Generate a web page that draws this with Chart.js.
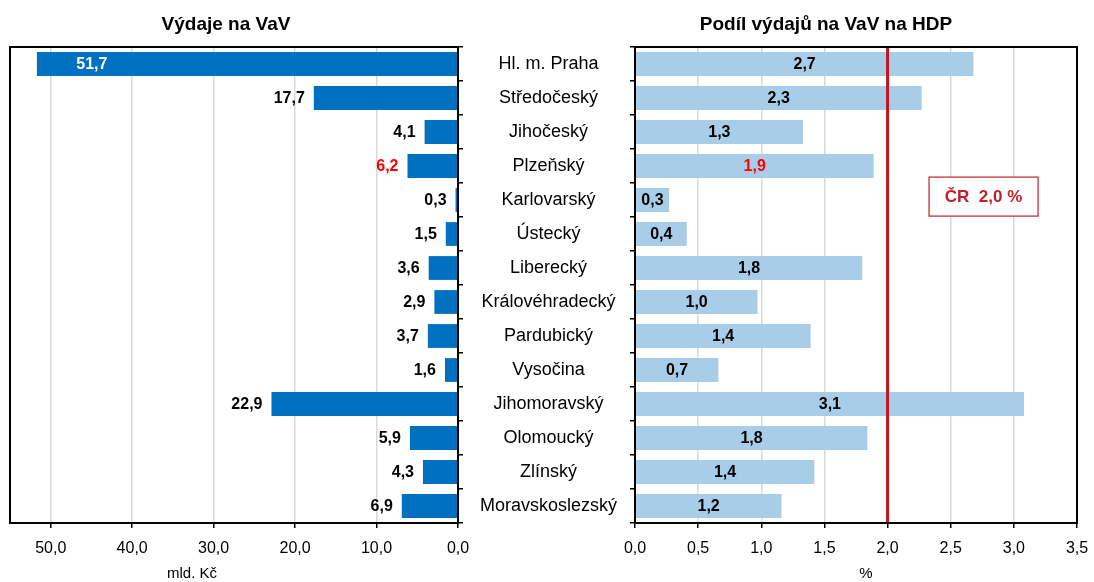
<!DOCTYPE html>
<html lang="cs">
<head>
<meta charset="utf-8">
<title>Výdaje na VaV v krajích</title>
<script src="https://cdn.jsdelivr.net/npm/chart.js@4.4.0/dist/chart.umd.min.js"></script>
<style>
  html, body { margin: 0; padding: 0; background: #fff; }
  #wrap { position: relative; width: 1094px; height: 582px; overflow: hidden; }
  #leftChart { position: absolute; left: 0; top: 0; }
  #rightChart { position: absolute; left: 470px; top: 0; }
</style>
</head>
<body>
<div id="wrap">
  <canvas id="leftChart" width="470" height="582"></canvas>
  <canvas id="rightChart" width="624" height="582"></canvas>
</div>
<script>
// Data
const regions = ['Hl. m. Praha', 'Středočeský', 'Jihočeský', 'Plzeňský', 'Karlovarský', 'Ústecký',
  'Liberecký', 'Královéhradecký', 'Pardubický', 'Vysočina', 'Jihomoravský', 'Olomoucký',
  'Zlínský', 'Moravskoslezský'];
const spending = [51.7, 17.7, 4.1, 6.2, 0.3, 1.5, 3.6, 2.9, 3.7, 1.6, 22.9, 5.9, 4.3, 6.9];       // mld. Kč
const gdpShare = [2.68, 2.27, 1.33, 1.89, 0.27, 0.41, 1.80, 0.97, 1.39, 0.66, 3.08, 1.84, 1.42, 1.16]; // % HDP
const spendingTicks = [0, 10, 20, 30, 40, 50];
const shareTicks = [0, 0.5, 1.0, 1.5, 2.0, 2.5, 3.0, 3.5];
const crShare = 2.0;
const highlightRegion = 'Plzeňský';

const FONT = '"Liberation Sans", Arial, Helvetica, sans-serif';
Chart.defaults.font.family = FONT;
Chart.defaults.color = '#000';

const fmt = v => v.toFixed(1).replace('.', ',');

// fixed axis height, no extra side padding for edge labels
const fitXAxis = scale => {
  scale.height = 59;
  scale.paddingLeft = 0;
  scale.paddingRight = 0;
};

// box around plot area
const framePlugin = {
  id: 'frame',
  afterDraw(chart) {
    const { ctx, chartArea: a } = chart;
    ctx.save();
    ctx.strokeStyle = '#000';
    ctx.lineWidth = 2;
    ctx.strokeRect(a.left, a.top, a.right - a.left, a.bottom - a.top);
    ctx.restore();
  }
};

// panel titles and axis captions
const panelTextPlugin = {
  id: 'panelText',
  afterDraw(chart, args, opts) {
    const ctx = chart.ctx;
    (opts.items || []).forEach(t => {
      ctx.save();
      ctx.font = t.font;
      ctx.fillStyle = t.color || '#000';
      ctx.textAlign = 'center';
      ctx.textBaseline = 'middle';
      ctx.fillText(t.text, t.x, t.y);
      ctx.restore();
    });
  }
};

// value labels on bars
const barLabelPlugin = {
  id: 'barLabels',
  afterDatasetsDraw(chart, args, opts) {
    const ctx = chart.ctx;
    const meta = chart.getDatasetMeta(0);
    const values = chart.data.datasets[0].data;
    ctx.save();
    ctx.font = 'bold 16px ' + FONT;
    ctx.textBaseline = 'middle';
    meta.data.forEach((bar, i) => {
      const v = values[i];
      const red = chart.data.labels[i] === highlightRegion;
      let x, color = red ? '#ff0000' : '#000';
      if (opts.mode === 'center') {
        ctx.textAlign = 'center';
        x = (bar.x + bar.base) / 2;
      } else if (v >= opts.insideFrom) {
        ctx.textAlign = 'center';
        x = bar.x + opts.insideOffset;
        color = '#fff';
      } else {
        ctx.textAlign = 'right';
        x = bar.x - opts.gap;
      }
      ctx.fillStyle = color;
      ctx.fillText(fmt(v), x, bar.y + 1);
    });
    ctx.restore();
  }
};

// national average line + label
const crPlugin = {
  id: 'crLine',
  afterDatasetsDraw(chart, args, opts) {
    const { ctx, chartArea: a, scales: { x, y } } = chart;
    const px = x.getPixelForValue(opts.value);
    ctx.save();
    ctx.strokeStyle = '#c0161e';
    ctx.lineWidth = 3;
    ctx.beginPath();
    ctx.moveTo(px, a.top);
    ctx.lineTo(px, a.bottom);
    ctx.stroke();

    const bx = x.getPixelForValue(opts.boxAt);
    const by = y.getPixelForValue(opts.boxRow);
    const w = 109, h = 39;
    ctx.fillStyle = '#fff';
    ctx.fillRect(bx - w / 2, by - h / 2, w, h);
    ctx.strokeStyle = '#c0202a';
    ctx.lineWidth = 1.2;
    ctx.strokeRect(bx - w / 2, by - h / 2, w, h);
    ctx.fillStyle = '#c0202a';
    ctx.font = 'bold 17px ' + FONT;
    ctx.textAlign = 'center';
    ctx.textBaseline = 'middle';
    ctx.fillText('ČR  ' + fmt(opts.value) + ' %', bx, by + 1);
    ctx.restore();
  }
};

// Left panel: Výdaje na VaV
new Chart(document.getElementById('leftChart'), {
  type: 'bar',
  data: {
    labels: regions,
    datasets: [{
      data: spending,
      backgroundColor: '#0070c0',
      barPercentage: 0.7,
      categoryPercentage: 1.0
    }]
  },
  options: {
    indexAxis: 'y',
    responsive: false,
    animation: false,
    layout: { padding: { left: 10, top: 47, right: 0, bottom: 0 } },
    scales: {
      x: {
        type: 'linear',
        min: 0,
        max: 55,
        reverse: true,
        afterBuildTicks: scale => { scale.ticks = spendingTicks.map(v => ({ value: v })); },
        afterFit: fitXAxis,
        ticks: {
          callback: v => fmt(v),
          font: { size: 16 },
          color: '#000',
          padding: 11,
          maxRotation: 0
        },
        grid: { color: '#d9d9d9', tickColor: '#000', tickLength: 5, lineWidth: 1.5 },
        border: { display: false }
      },
      y: {
        position: 'right',
        afterFit: scale => { scale.width = 12; },
        ticks: { display: false },
        grid: { drawOnChartArea: false, offset: true, tickLength: 5, tickColor: '#000', lineWidth: 1.5 },
        border: { display: false }
      }
    },
    plugins: {
      legend: { display: false },
      tooltip: { enabled: false },
      barLabels: { mode: 'outside', insideFrom: 40, insideOffset: 55, gap: 9 },
      panelText: {
        items: [
          { text: 'Výdaje na VaV', x: 226, y: 25, font: 'bold 19px ' + FONT },
          { text: 'mld. Kč', x: 192, y: 574, font: '15px ' + FONT }
        ]
      }
    }
  },
  plugins: [barLabelPlugin, framePlugin, panelTextPlugin]
});

// Right panel: Podíl výdajů na VaV na HDP
new Chart(document.getElementById('rightChart'), {
  type: 'bar',
  data: {
    labels: regions,
    datasets: [{
      data: gdpShare,
      backgroundColor: '#a8cde8',
      barPercentage: 0.7,
      categoryPercentage: 1.0
    }]
  },
  options: {
    indexAxis: 'y',
    responsive: false,
    animation: false,
    layout: { padding: { left: 0, top: 47, right: 17, bottom: 0 } },
    scales: {
      x: {
        type: 'linear',
        min: 0,
        max: 3.5,
        afterBuildTicks: scale => { scale.ticks = shareTicks.map(v => ({ value: v })); },
        afterFit: fitXAxis,
        ticks: {
          callback: v => fmt(v),
          font: { size: 16 },
          color: '#000',
          padding: 11,
          maxRotation: 0
        },
        grid: { color: '#d9d9d9', tickColor: '#000', tickLength: 5, lineWidth: 1.5 },
        border: { display: false }
      },
      y: {
        position: 'left',
        afterFit: scale => { scale.width = 165; },
        ticks: { font: { size: 18 }, color: '#000', crossAlign: 'center', padding: 13 },
        grid: { drawOnChartArea: false, offset: true, tickLength: 5, tickColor: '#000', lineWidth: 1.5 },
        border: { display: false }
      }
    },
    plugins: {
      legend: { display: false },
      tooltip: { enabled: false },
      barLabels: { mode: 'center' },
      crLine: { value: crShare, boxAt: 2.76, boxRow: 3.9 },
      panelText: {
        items: [
          { text: 'Podíl výdajů na VaV na HDP', x: 356, y: 25, font: 'bold 19px ' + FONT },
          { text: '%', x: 396, y: 574, font: '15px ' + FONT }
        ]
      }
    }
  },
  plugins: [crPlugin, barLabelPlugin, framePlugin, panelTextPlugin]
});
</script>
</body>
</html>
